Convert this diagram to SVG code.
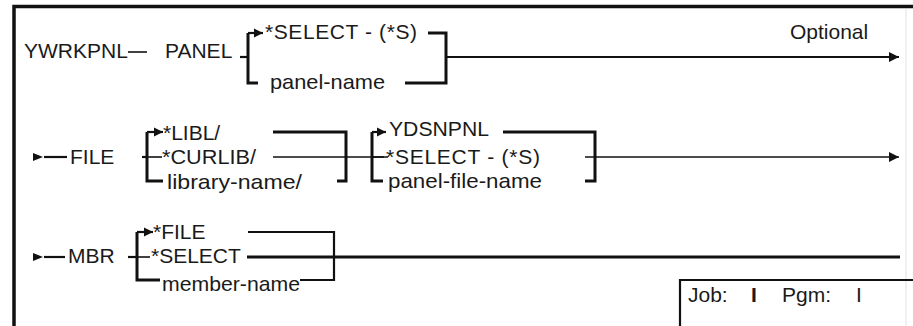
<svg xmlns="http://www.w3.org/2000/svg" width="913" height="326" viewBox="0 0 913 326">
<defs>
<style>
text{font-family:"Liberation Sans",Arial,sans-serif;font-size:21px;fill:#1a1a1a}
.thin{stroke:#111;stroke-width:1.6;fill:none}
.mid{stroke:#111;stroke-width:2.2;fill:none}
.thick{stroke:#111;stroke-width:3;fill:none}
.frame{stroke:#111;stroke-width:3.5;fill:none}
</style>
<marker id="ah" markerUnits="userSpaceOnUse" markerWidth="11" markerHeight="11" refX="10" refY="5.5" orient="auto"><path d="M0,0.5 L10,5.5 L0,10.5 z" fill="#111"/></marker>
<marker id="ahs" markerUnits="userSpaceOnUse" markerWidth="10" markerHeight="10" refX="9" refY="5" orient="auto"><path d="M0,0.5 L9,5 L0,9.5 z" fill="#111"/></marker>
</defs>
<rect width="913" height="326" fill="#fff"/>
<g id="frame">
<path class="frame" d="M14,326 V6.5 H913"/>
<path d="M906,9 V326" stroke="#e2e2e2" stroke-width="1" fill="none"/>
</g>
<g id="connectors">
<!-- row 1 -->
<path class="thin" d="M128,52 H147"/>
<path class="mid" d="M240,57 H248"/>
<path class="thick" d="M248,33 V83 H258"/>
<path class="mid" d="M248,33 H263" marker-end="url(#ahs)"/>
<path class="thick" d="M428,33 H446 V83 H405"/>
<path class="mid" d="M446,57 H899" marker-end="url(#ah)"/>
<!-- row 2 -->
<polygon points="33,153 43,157 33,161" fill="#111"/>
<path class="mid" d="M44,157 H67"/>
<path class="mid" d="M142,157 H147"/>
<path class="thick" d="M147,132 V181 H163"/>
<path class="mid" d="M147,132 H163" marker-end="url(#ahs)"/>
<path class="thin" d="M147,157 H162"/>
<path class="thick" d="M273,132 H346 V181 H337"/>
<path class="thin" d="M273,157 H388"/>
<path class="thick" d="M372,132 V181 H383"/>
<path class="mid" d="M372,132 H386" marker-end="url(#ahs)"/>
<path class="thin" d="M372,157 H384"/>
<path class="thick" d="M503,132 H595 V181 H585"/>
<path class="thin" d="M585,157 H899" marker-end="url(#ah)"/>
<!-- row 3 -->
<polygon points="33,253 43,257 33,261" fill="#111"/>
<path class="mid" d="M44,257 H65"/>
<path class="mid" d="M128,257 H137"/>
<path class="thick" d="M137,232 V280 H160"/>
<path class="mid" d="M137,232 H153" marker-end="url(#ahs)"/>
<path class="thin" d="M137,257 H150"/>
<path class="mid" d="M248,232 H334 V280 H300"/>
<path class="thick" d="M247,257 H900"/>
<!-- job box -->
<path class="mid" d="M680,326 V280 H913"/>
</g>
<g id="n-ywrkpnl"><text x="24" y="58">YWRKPNL</text></g>
<g id="n-panel"><text x="165" y="58">PANEL</text></g>
<g id="n-select1"><text x="265" y="39" textLength="152" lengthAdjust="spacing">*SELECT - (*S)</text></g>
<g id="n-panelname"><text x="270" y="89" textLength="115" lengthAdjust="spacingAndGlyphs">panel-name</text></g>
<g id="n-optional"><text x="790" y="39">Optional</text></g>
<g id="n-file"><text x="70" y="164">FILE</text></g>
<g id="n-libl"><text x="163" y="140">*LIBL/</text></g>
<g id="n-curlib"><text x="162" y="164" textLength="94" lengthAdjust="spacingAndGlyphs">*CURLIB/</text></g>
<g id="n-libname"><text x="167" y="189" textLength="135" lengthAdjust="spacingAndGlyphs">library-name/</text></g>
<g id="n-ydsnpnl"><text x="389" y="136" textLength="100" lengthAdjust="spacingAndGlyphs">YDSNPNL</text></g>
<g id="n-select2"><text x="386" y="164" textLength="154" lengthAdjust="spacing">*SELECT - (*S)</text></g>
<g id="n-pfname"><text x="388" y="188" textLength="154" lengthAdjust="spacingAndGlyphs">panel-file-name</text></g>
<g id="n-mbr"><text x="68" y="263">MBR</text></g>
<g id="n-filestar"><text x="153" y="239">*FILE</text></g>
<g id="n-select3"><text x="151" y="263">*SELECT</text></g>
<g id="n-membername"><text x="162" y="291" textLength="138" lengthAdjust="spacingAndGlyphs">member-name</text></g>
<g id="n-job"><text y="302"><tspan x="688">Job:</tspan><tspan x="751" font-weight="bold">I</tspan><tspan x="782">Pgm:</tspan><tspan x="856">I</tspan></text></g>
</svg>
